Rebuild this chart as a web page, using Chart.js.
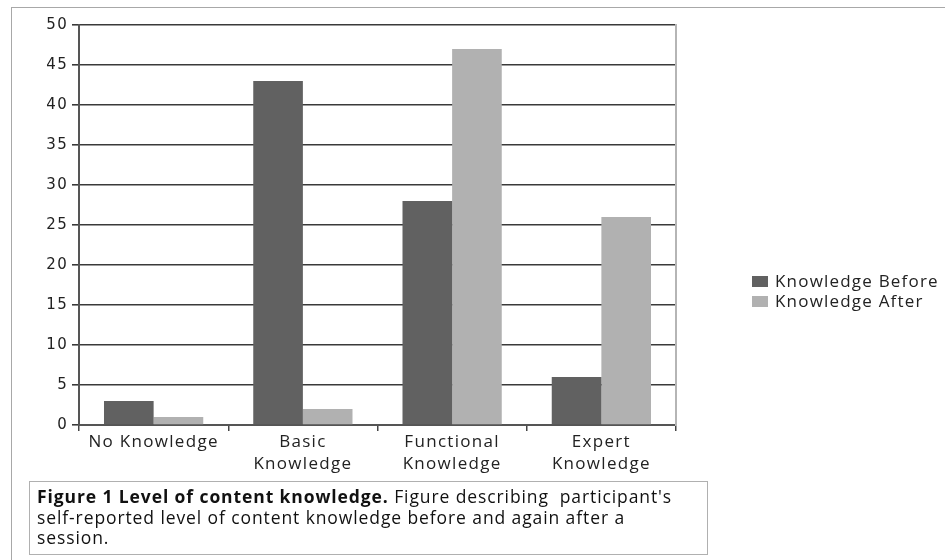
<!DOCTYPE html>
<html>
<head>
<meta charset="utf-8">
<script src="https://cdn.jsdelivr.net/npm/chart.js@4"></script>
<style>
  html, body { margin: 0; padding: 0; background: #fff; }
  body { width: 945px; height: 560px; position: relative; overflow: hidden; }
  #frame { position: absolute; left: 11px; top: 7px; width: 960px; height: 600px; border: 1px solid #a8a8a8; box-sizing: border-box; }
  #wrap { position: absolute; left: 0; top: 0; width: 945px; height: 560px; }
  #legend { position: absolute; left: 752px; top: 271px; font-family: "Open Sans", sans-serif; font-size: 17px; letter-spacing: 1.2px; color: #222; line-height: 20px; }
  #legend .item { display: flex; align-items: center; white-space: nowrap; }
  #legend .sw { width: 16px; height: 11px; margin-right: 7px; display: inline-block; }
  #caption { position: absolute; left: 29px; top: 481px; width: 679px; height: 74px; border: 1px solid #b0b0b0; box-sizing: border-box; padding: 4px 0 0 7px; font-family: "Open Sans", sans-serif; font-size: 17.5px; letter-spacing: 0.9px; line-height: 20.5px; color: #111; white-space: nowrap; }
</style>
</head>
<body>
<div id="frame"></div>
<div id="wrap"><canvas id="c" width="945" height="560"></canvas></div>
<div id="legend"></div>
<div id="caption"><b>Figure 1 Level of content knowledge.</b> Figure describing&nbsp; participant's<br>self-reported level of content knowledge before and again after a<br>session.</div>
<script>
const categories = [["No Knowledge"], ["Basic", "Knowledge"], ["Functional", "Knowledge"], ["Expert", "Knowledge"]];
const seriesNames = ["Knowledge Before", "Knowledge After"];
const knowledgeBefore = [3, 43, 28, 6];
const knowledgeAfter = [1, 2, 47, 26];
const seriesColors = ["#616161", "#b1b1b1"];
const yTicks = [0, 5, 10, 15, 20, 25, 30, 35, 40, 45, 50];

const data = {
  labels: categories,
  datasets: [
    { label: seriesNames[0], data: knowledgeBefore, backgroundColor: seriesColors[0], borderWidth: 0 },
    { label: seriesNames[1], data: knowledgeAfter, backgroundColor: seriesColors[1], borderWidth: 0 }
  ]
};

const spacingPlugin = {
  id: "wideText",
  beforeInit(chart) { chart.ctx.letterSpacing = "1.3px"; },
  beforeDraw(chart) { chart.ctx.letterSpacing = "1.3px"; }
};

new Chart(document.getElementById("c"), {
  type: "bar",
  data,
  plugins: [spacingPlugin],
  options: {
    responsive: false,
    animation: false,
    devicePixelRatio: 1,
    layout: { padding: { left: 0, top: 25, right: 269, bottom: 75 } },
    datasets: { bar: { categoryPercentage: 0.665, barPercentage: 1.0 } },
    plugins: { legend: { display: false }, tooltip: { enabled: false } },
    scales: {
      x: {
        offset: true,
        grid: { display: true, offset: true, drawOnChartArea: false, drawTicks: true, tickLength: 6, color: "#444", lineWidth: 1.5 },
        border: { display: true, color: "#555", width: 2 },
        ticks: { color: "#222", font: { family: "'Open Sans', sans-serif", size: 17, lineHeight: 1.3 }, padding: 0, maxRotation: 0, autoSkip: false },
        afterFit: (s) => { s.height = 60; }
      },
      y: {
        min: 0, max: 50,
        afterBuildTicks: (s) => { s.ticks = yTicks.map(v => ({ value: v })); },
        grid: { color: "#3a3a3a", lineWidth: 1.6, tickLength: 7, drawTicks: true },
        border: { display: true, color: "#555", width: 2 },
        ticks: { color: "#222", font: { family: "'DejaVu Sans', sans-serif", size: 15 }, padding: 4 },
        afterFit: (s) => { s.width = 79; }
      },
      yRight: {
        position: "right",
        min: 0, max: 50,
        grid: { drawOnChartArea: false, drawTicks: false },
        border: { display: true, color: "#b5b5b5", width: 2 },
        ticks: { display: false },
        afterFit: (s) => { s.width = 0; }
      }
    }
  }
});

const lg = document.getElementById("legend");
seriesNames.forEach((n, i) => {
  const d = document.createElement("div");
  d.className = "item";
  d.innerHTML = '<span class="sw" style="background:' + seriesColors[i] + '"></span>' + n;
  lg.appendChild(d);
});
</script>
</body>
</html>
